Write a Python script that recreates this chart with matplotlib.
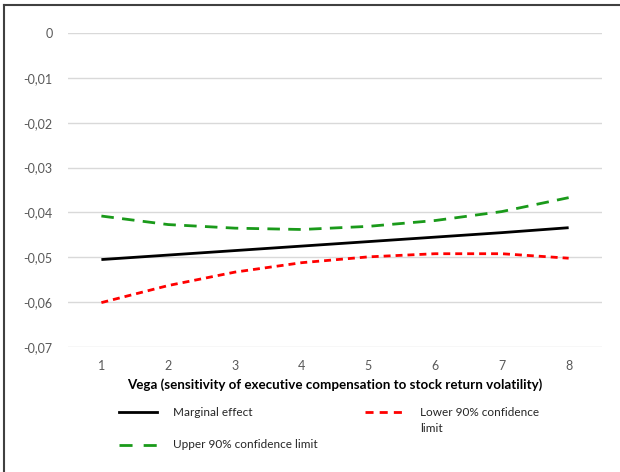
import matplotlib.pyplot as plt
from matplotlib.lines import Line2D
from matplotlib.ticker import FuncFormatter

# values
vega = [1, 2, 3, 4, 5, 6, 7, 8]
marginal = [-0.0505, -0.0495, -0.0485, -0.0475, -0.0465, -0.0455, -0.0445, -0.0434]
lower = [-0.0601, -0.0563, -0.0533, -0.0512, -0.0499, -0.0492, -0.0492, -0.0502]
upper = [-0.0408, -0.0427, -0.0435, -0.0438, -0.0431, -0.0418, -0.0398, -0.0367]
yticks = [0, -0.01, -0.02, -0.03, -0.04, -0.05, -0.06, -0.07]

plt.rcParams['font.family'] = ['Lato', 'DejaVu Sans']
grey = '#595959'
green = '#1a9a1a'
red = '#ff0000'

fig = plt.figure(figsize=(6.2, 4.72), dpi=100)
ax = fig.add_axes([0.1097, 0.2648, 0.8613, 0.6652])

ax.plot(vega, marginal, color='black', lw=2, solid_capstyle='butt')
ax.plot(vega, upper, color=green, lw=2, dashes=(4.5, 3))
ax.plot(vega, lower, color=red, lw=2, dashes=(2.5, 1.8))

ax.set_xlim(0.5, 8.5)
ax.set_ylim(-0.07, 0)
ax.set_xticks(vega)
ax.set_yticks(yticks)
ax.yaxis.set_major_formatter(FuncFormatter(lambda v, p: '0' if abs(v) < 1e-9 else ('%.2f' % v).replace('.', ',')))
ax.grid(axis='y', color='#d9d9d9', lw=1)
ax.set_axisbelow(True)
for s in ax.spines.values():
    s.set_visible(False)
ax.tick_params(length=0, labelsize=9, labelcolor=grey)
ax.tick_params(axis='y', pad=11)
ax.tick_params(axis='x', pad=9)
ax.set_xlabel('Vega (sensitivity of executive compensation to stock return volatility)',
              fontsize=9.6, fontweight='bold', color='black', labelpad=5)

# legend drawn by hand, two columns like the reference
def leg(x0, x1, y, tx, label, **kw):
    fig.add_artist(Line2D([x0 / 620, x1 / 620], [1 - y / 472, 1 - y / 472], lw=2, **kw))
    fig.text(tx / 620, 1 - y / 472, label, fontsize=8.5, color='#262626', va='center', ha='left')

leg(119, 157, 412, 173, 'Marginal effect', color='black')
leg(365, 402, 412, 420, 'Lower 90% confidence', color=red, dashes=(2.9, 2.2))
fig.text(420 / 620, 1 - 428 / 472, 'limit', fontsize=8.5, color='#262626', va='center', ha='left')
leg(119, 157, 445, 173, 'Upper 90% confidence limit', color=green, dashes=(4.7, 4))

# frame of the picture (top and left edges visible)
fig.add_artist(Line2D([4 / 620, 1], [1 - 5 / 472, 1 - 5 / 472], color='#404040', lw=1.5))
fig.add_artist(Line2D([4 / 620, 4 / 620], [0, 1 - 5 / 472], color='#404040', lw=1.5))

fig.savefig('out.png', dpi=100)
